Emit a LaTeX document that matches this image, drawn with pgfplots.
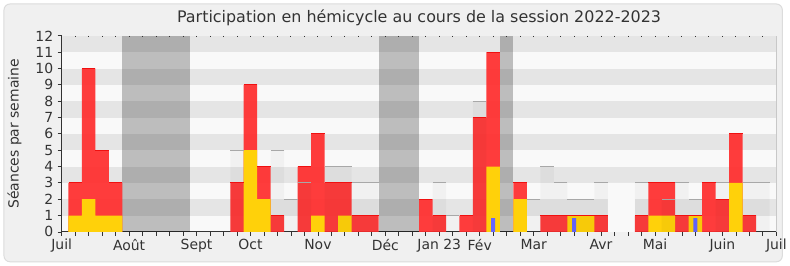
\documentclass[border=0pt]{standalone}
\usepackage{pgfplots}
\usepackage{pgfplotstable}
\pgfplotsset{compat=1.18}
\usepackage{fontspec}
\setmainfont{DejaVu Sans}
\definecolor{panel}{HTML}{F0F0F0}
\definecolor{paneledge}{HTML}{DCDCDC}
\definecolor{stripeL}{HTML}{F9F9F9}
\definecolor{stripeD}{HTML}{E5E5E5}
\definecolor{pres}{HTML}{FF2E2E}
\definecolor{presedge}{HTML}{F01010}
\definecolor{interv}{HTML}{FFD10A}
\definecolor{quest}{HTML}{6666FF}
\definecolor{txt}{HTML}{333333}
\definecolor{medline}{HTML}{A8A8A8}
\definecolor{rborder}{HTML}{C8C8C8}

% Présence (séances par semaine), semaines numérotées depuis début juillet 2022
\pgfplotstableread{
x y
1 3
2 10
3 5
4 3
13 3
14 9
15 4
16 1
18 4
19 6
20 3
21 3
22 1
23 1
27 2
28 1
30 1
31 7
32 11
34 3
36 1
37 1
38 1
39 1
40 1
43 1
44 3
45 3
46 1
47 1
48 3
49 2
50 6
51 1
}\presence

\pgfplotstableread{
x y
1 1
2 2
3 1
4 1
14 5
15 2
19 1
21 1
32 4
34 2
38 1
39 1
44 1
45 1
47 1
50 3
}\interventions

\pgfplotstableread{
x y
32 0.85
38 0.85
47 0.85
}\questions

\pgfplotstableread{
x y
13 5
16 5
17 2
18 3
20 4
21 4
22 3
23 3
28 3
29 1
31 8
35 2
36 4
37 3
38 2
39 2
40 3
43 3
45 2
46 3
47 2
49 3
51 3
52 3
}\mediane

\pgfplotstableread{
x y
41 3
42 3
}\blanc

\begin{document}
\begin{tikzpicture}
\fill[white] (0,0) rectangle (790bp,267bp);
\filldraw[fill=panel, draw=paneledge, rounded corners=6bp, line width=1bp] (4bp,4bp) rectangle (786bp,263bp);
\begin{axis}[
  at={(62bp,34bp)}, anchor=south west,
  scale only axis, width=718bp, height=197bp,
  xmin=0, xmax=53, ymin=0, ymax=12,
  axis x line*=bottom, axis y line*=left,
  axis line style={draw=txt, line width=1bp},
  axis background/.style={fill=stripeL},
  xtick={0,5,10,14,19,24,28,31,35,40,44,49,53},
  xticklabels={Juil,Août,Sept,Oct,Nov,Déc,Jan 23,Fév,Mar,Avr,Mai,Juin,Juil},
  minor xtick={0,...,53},
  ytick={0,...,12},
  tick align=outside,
  major tick length=4bp, minor tick length=4bp,
  tick style={draw=txt, line width=0.8bp},
  ticklabel style={font=\fontsize{14bp}{16bp}\selectfont, text=txt},
  yticklabel style={xshift=-1bp},
  /pgf/number format/assume math mode=true,
  ylabel={Séances par semaine},
  ylabel style={at={(axis description cs:-0.066,0.5)}, anchor=center, font=\fontsize{14bp}{16bp}\selectfont, text=txt},
  title={Participation en hémicycle au cours de la session 2022-2023},
  title style={at={(axis description cs:0.5,1.09)}, anchor=center, yshift=-6pt, font=\fontsize{16bp}{18bp}\selectfont, text=txt},
  mybar/.style={ybar, bar shift=0pt, bar width=1, draw=none},
  clip=false,
]
% bandes horizontales
\fill[stripeD] (axis cs:0,1) rectangle (axis cs:53,2);
\fill[stripeD] (axis cs:0,3) rectangle (axis cs:53,4);
\fill[stripeD] (axis cs:0,5) rectangle (axis cs:53,6);
\fill[stripeD] (axis cs:0,7) rectangle (axis cs:53,8);
\fill[stripeD] (axis cs:0,9) rectangle (axis cs:53,10);
\fill[stripeD] (axis cs:0,11) rectangle (axis cs:53,12);
% vacances parlementaires
\addplot[mybar, bar width=5, fill=black, fill opacity=0.24] coordinates {(7,12)};
\addplot[mybar, bar width=3, fill=black, fill opacity=0.24] coordinates {(25,12)};
\addplot[mybar, bar width=1, fill=black, fill opacity=0.24] coordinates {(33,12)};
\addplot[mybar, fill=stripeL] table {\blanc};
% présence
\addplot[mybar, fill=pres, fill opacity=0.93] table {\presence};
\addplot[only marks, mark=-, mark size=6.75pt, mark options={draw=presedge, line width=0.8bp}] table {\presence};
% interventions
\addplot[mybar, fill=interv] table {\interventions};
% questions
\addplot[mybar, bar width=0.3, fill=quest] table {\questions};
% médiane
\addplot[mybar, fill=black, fill opacity=0.03] table {\mediane};
\addplot[only marks, mark=-, mark size=6.75pt, mark options={draw=medline, line width=1bp}] table {\mediane};
\draw[rborder, line width=1.2bp] (axis cs:53,0) -- (axis cs:53,12);
\end{axis}
\begin{axis}[
  at={(62bp,34bp)}, anchor=south west,
  scale only axis, width=718bp, height=197bp,
  xmin=0, xmax=53, ymin=0, ymax=12,
  axis x line*=top, axis y line=none,
  x axis line style={draw=none},
  xtick={1,...,52}, xticklabels={},
  ytick=\empty,
  tick align=inside,
  major tick length=1.3bp,
  tick style={draw=txt, line width=1bp},
]
\end{axis}
\end{tikzpicture}
\end{document}
